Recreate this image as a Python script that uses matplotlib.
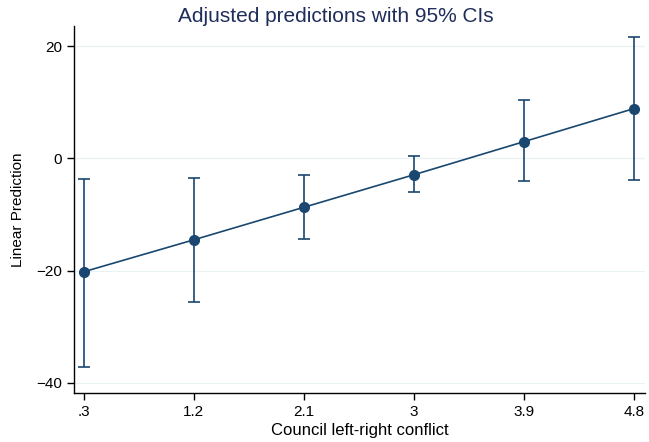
import matplotlib
matplotlib.use("Agg")
import matplotlib.pyplot as plt

plt.rcParams['font.family'] = ['Liberation Sans', 'DejaVu Sans']

# values
conflict = [0.3, 1.2, 2.1, 3.0, 3.9, 4.8]
xlabels = ['.3', '1.2', '2.1', '3', '3.9', '4.8']
pred = [-20.2, -14.5, -8.7, -2.9, 3.0, 8.9]
ci_low = [-37.1, -25.6, -14.3, -5.9, -4.1, -3.9]
ci_high = [-3.6, -3.4, -2.9, 0.4, 10.4, 21.6]
yticks = [-40, -20, 0, 20]

navy = '#1a476f'

fig = plt.figure(figsize=(6.49, 4.42), dpi=100)
ax = fig.add_axes([0.114, 0.111, 0.88, 0.83])

lo = [p - l for p, l in zip(pred, ci_low)]
hi = [h - p for p, h in zip(pred, ci_high)]
ax.errorbar(conflict, pred, yerr=[lo, hi], fmt='none', ecolor=navy, elinewidth=1.2,
            capsize=4, capthick=1.2, zorder=2)
ax.plot(conflict, pred, color=navy, lw=1.2, marker='o', ms=7, zorder=3)

ax.set_xlim(0.22, 4.89)
ax.set_ylim(-41.8, 23.6)
ax.set_xticks(conflict)
ax.set_xticklabels(xlabels)
ax.set_yticks(yticks)
ax.set_yticklabels(['\u221240', '\u221220', '0', '20'])
ax.grid(axis='y', color='#eaf2f3', lw=0.9)
ax.set_axisbelow(True)

for s in ['top', 'right']:
    ax.spines[s].set_visible(False)
for s in ['left', 'bottom']:
    ax.spines[s].set_color('black')
    ax.spines[s].set_linewidth(1.0)
ax.tick_params(labelsize=11, length=5, width=1, colors='black')

ax.set_xlabel('Council left-right conflict', fontsize=12, labelpad=3)
ax.set_ylabel('Linear Prediction', fontsize=11, labelpad=8)
fig.text(0.518, 0.985, 'Adjusted predictions with 95% CIs', fontsize=15, color='#1e2d5a',
         ha='center', va='top')

fig.savefig('out.png', dpi=100, facecolor='white')
